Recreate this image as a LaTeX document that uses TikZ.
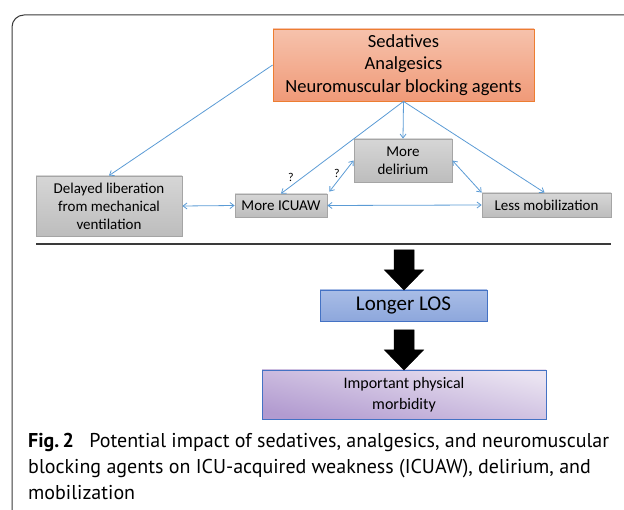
\documentclass[tikz,border=0pt]{standalone}
\usepackage{fontspec}
\setmainfont{Carlito}
\newfontfamily\capfont{PT Sans}
\usetikzlibrary{arrows.meta}
\definecolor{conn}{HTML}{5B9BD5}
\definecolor{orT}{HTML}{F6C2AC}
\definecolor{orB}{HTML}{F09A78}
\definecolor{orD}{HTML}{ED7D31}
\definecolor{grT}{HTML}{D6D6D6}
\definecolor{grB}{HTML}{BDBDBD}
\definecolor{grD}{HTML}{A5A5A5}
\definecolor{blT}{HTML}{A9BDE6}
\definecolor{blB}{HTML}{8DA7DC}
\definecolor{blD}{HTML}{4472C4}
\definecolor{puL}{HTML}{EAE3F1}
\definecolor{puD}{HTML}{B29BD0}
\definecolor{frame}{HTML}{3A3A3A}
\tikzset{
  greybox/.style={draw=grD, line width=0.8pt, top color=grT, bottom color=grB, align=center, inner sep=0pt, font=\fontsize{15}{18}\selectfont},
  link/.style={conn, line width=0.8pt, -{Straight Barb[length=4pt,width=6pt]}},
  dlink/.style={conn, line width=0.8pt, {Straight Barb[length=4pt,width=6pt]}-{Straight Barb[length=4pt,width=6pt]}},
  qmark/.style={font=\fontsize{12}{12}\selectfont, inner sep=0pt},
  bigarrow/.style={fill=black, draw=black, line width=0.5pt},
}
\begin{document}
\begin{tikzpicture}[x=1pt,y=-1pt]
\useasboundingbox (0,0) rectangle (624,510);
% frame
\draw[frame, line width=1pt] (12,510) -- (12,27) arc[start angle=180,end angle=270,radius=12] -- (624,15);
% top box
\node[draw=orD, line width=0.8pt, top color=orT, bottom color=orB, minimum width=261pt, minimum height=72pt, inner sep=0pt, align=center, font=\fontsize{18.5}{22.5}\selectfont] (top) at (403.5,65) {Sedatives\\Analgesics\\Neuromuscular blocking agents};
\node[greybox, minimum width=98pt, minimum height=43pt] (del) at (403,160.5) {More\\delirium};
\node[greybox, minimum width=146pt, minimum height=60pt] (dl) at (109,206) {Delayed liberation\\from mechanical\\ventilation};
\node[greybox, minimum width=92pt, minimum height=23pt] (icu) at (281,205.5) {More ICUAW};
\node[greybox, minimum width=129pt, minimum height=24pt] (mob) at (546.5,205) {Less mobilization};
% connectors
\draw[link] (top.west) -- (dl.north);
\draw[link] (top.south) -- (icu.north);
\draw[link] (top.south) -- (del.north);
\draw[link] (top.south) -- ([xshift=-2pt]mob.north);
\draw[dlink] (dl.east) -- (icu.west);
\draw[dlink] (icu.east) -- (mob.west);
\draw[dlink] ([xshift=2pt,yshift=2pt]icu.north east) -- (del.west);
\draw[dlink] (del.east) -- (mob.north west);
\node[qmark] (q1) at (291,177) {?};
\node[qmark] (q2) at (337,173) {?};
% rule
\coordinate (ruleL) at (36,244);
\coordinate (ruleR) at (611,244);
\draw[frame, line width=1.4pt] (ruleL) -- (ruleR);
% bottom
\node[draw=blD, line width=0.8pt, top color=blT, bottom color=blB, minimum width=167pt, minimum height=31pt, inner sep=0pt, font=\fontsize{21}{24}\selectfont] (los) at (403.5,305.5) {Longer LOS};
\node[draw=blD, line width=0.8pt, shading=axis, top color=puL, bottom color=puD, shading angle=-12, minimum width=284pt, minimum height=49pt, inner sep=0pt, align=center, font=\fontsize{16}{21}\selectfont] (morb) at (404,394.5) {Important physical\\morbidity};
\draw[bigarrow] (394,250) -- (414,250) -- (414,270) -- (423.5,270) -- (404,290) -- (384.5,270) -- (394,270) -- cycle;
\draw[bigarrow] (394,330) -- (414,330) -- (414,350) -- (423.5,350) -- (404,370) -- (384.5,350) -- (394,350) -- cycle;
% caption
\node[anchor=base west, inner sep=0pt, align=left, font=\capfont\fontsize{20}{26.5}\selectfont] (cap) at (28,500) {\textbf{Fig.\,2}\hspace{0.5em} Potential impact of sedatives, analgesics, and neuromuscular\\blocking agents on ICU-acquired weakness (ICUAW), delirium, and\\mobilization};
\end{tikzpicture}
\end{document}
